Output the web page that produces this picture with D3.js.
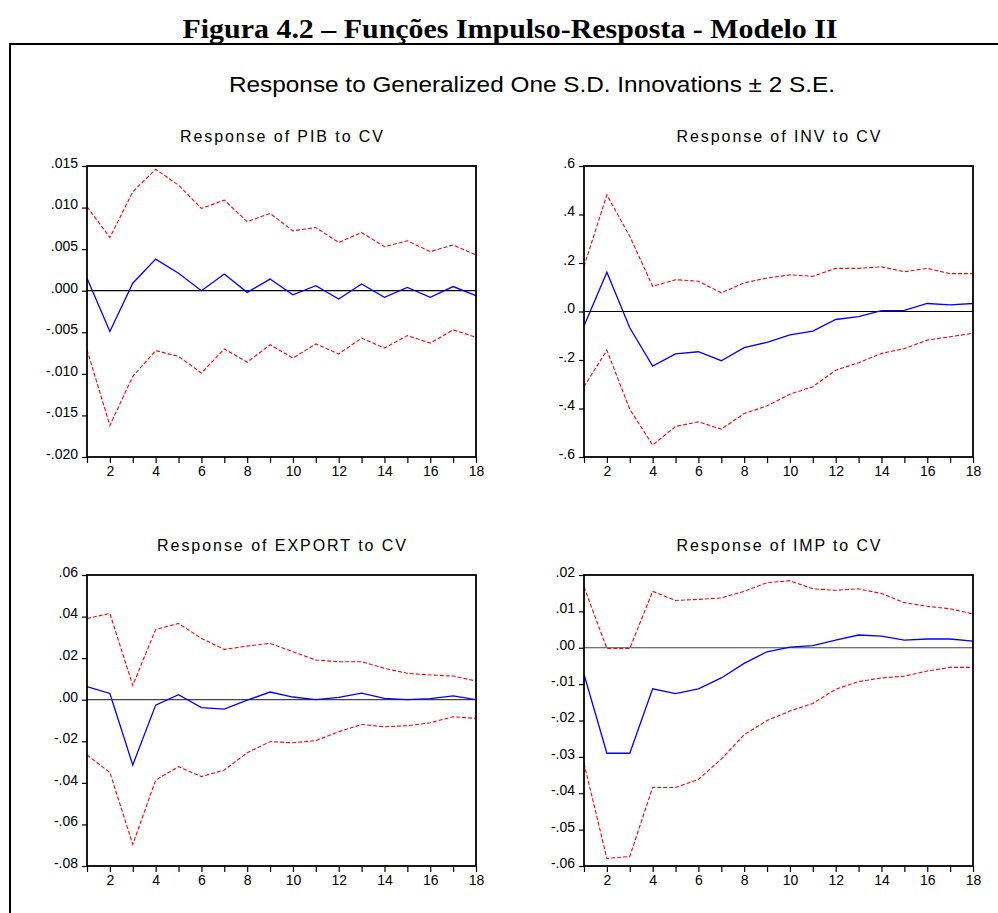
<!DOCTYPE html>
<html>
<head>
<meta charset="UTF-8">
<title>Figura 4.2</title>
<script src="https://cdn.jsdelivr.net/npm/d3@7"></script>
<style>
  body { margin: 0; background: #fff; }
  svg text { fill: #000; }
  .band { fill: none; stroke: #ff0000; stroke-width: 1.1px; stroke-dasharray: 4,2; }
  .resp { fill: none; stroke: #0000ff; stroke-width: 1.3px; }
</style>
</head>
<body>
<svg width="998" height="913"></svg>
<script>
// horizon (periods) and x tick labels
var periods = [1,2,3,4,5,6,7,8,9,10,11,12,13,14,15,16,17,18];
var xTickLabels = ["2","4","6","8","10","12","14","16","18"];

// PIB to CV
var pibResp  = [0.0015,-0.0049,0.0009,0.0038,0.0021,0.0000,0.0020,-0.0002,0.0014,-0.0005,0.0006,-0.0010,0.0008,-0.0008,0.0004,-0.0008,0.0005,-0.0006];
var pibUpper = [0.0101,0.0064,0.0119,0.0146,0.0127,0.0099,0.0109,0.0083,0.0093,0.0072,0.0076,0.0058,0.0070,0.0053,0.0060,0.0047,0.0055,0.0043];
var pibLower = [-0.0071,-0.0162,-0.0103,-0.0072,-0.0079,-0.0099,-0.0070,-0.0086,-0.0065,-0.0081,-0.0064,-0.0076,-0.0057,-0.0069,-0.0054,-0.0063,-0.0047,-0.0056];
var pibTicks = [0.015,0.010,0.005,0.000,-0.005,-0.010,-0.015,-0.020];
var pibTickLabels = [".015",".010",".005",".000","-.005","-.010","-.015","-.020"];

// INV to CV
var invResp  = [-0.060,0.162,-0.067,-0.225,-0.175,-0.166,-0.203,-0.149,-0.127,-0.096,-0.081,-0.033,-0.021,0.004,0.005,0.033,0.027,0.033];
var invUpper = [0.186,0.481,0.310,0.104,0.131,0.125,0.077,0.118,0.138,0.151,0.145,0.178,0.178,0.184,0.164,0.178,0.156,0.156];
var invLower = [-0.310,-0.160,-0.403,-0.551,-0.474,-0.455,-0.485,-0.421,-0.389,-0.341,-0.310,-0.242,-0.211,-0.173,-0.153,-0.118,-0.104,-0.090];
var invTicks = [0.6,0.4,0.2,0.0,-0.2,-0.4,-0.6];
var invTickLabels = [".6",".4",".2",".0","-.2","-.4","-.6"];

// EXPORT to CV
var expResp  = [0.0063,0.0030,-0.0314,-0.0026,0.0024,-0.0038,-0.0045,-0.0002,0.0037,0.0013,0.0000,0.0011,0.0032,0.0006,0.0000,0.0005,0.0018,0.0000];
var expUpper = [0.0391,0.0415,0.0069,0.0338,0.0367,0.0295,0.0242,0.0258,0.0271,0.0231,0.0191,0.0183,0.0183,0.0151,0.0127,0.0119,0.0114,0.0090];
var expLower = [-0.0266,-0.0350,-0.0696,-0.0387,-0.0322,-0.0370,-0.0338,-0.0255,-0.0202,-0.0207,-0.0197,-0.0154,-0.0119,-0.0130,-0.0125,-0.0111,-0.0082,-0.0090];
var expTicks = [0.06,0.04,0.02,0.00,-0.02,-0.04,-0.06,-0.08];
var expTickLabels = [".06",".04",".02",".00","-.02","-.04","-.06","-.08"];

// IMP to CV
var impResp  = [-0.0073,-0.0290,-0.0290,-0.0113,-0.0126,-0.0113,-0.0083,-0.0043,-0.0011,0.0002,0.0006,0.0021,0.0035,0.0032,0.0021,0.0024,0.0024,0.0018];
var impUpper = [0.0167,-0.0002,-0.0002,0.0155,0.0130,0.0133,0.0137,0.0155,0.0179,0.0184,0.0162,0.0158,0.0162,0.0149,0.0124,0.0114,0.0107,0.0093];
var impLower = [-0.0318,-0.0579,-0.0574,-0.0384,-0.0384,-0.0362,-0.0306,-0.0239,-0.0200,-0.0174,-0.0153,-0.0114,-0.0093,-0.0083,-0.0078,-0.0064,-0.0054,-0.0054];
var impTicks = [0.02,0.01,0.00,-0.01,-0.02,-0.03,-0.04,-0.05,-0.06];
var impTickLabels = [".02",".01",".00","-.01","-.02","-.03","-.04","-.05","-.06"];

var svg = d3.select('svg');

// figure caption and outer frame
svg.append('text')
   .attr('x', 510).attr('y', 38)
   .attr('text-anchor', 'middle')
   .style('font-family', '"Liberation Serif", "Times New Roman", serif')
   .style('font-weight', 'bold').style('font-size', '27px')
   .attr('textLength', 655).attr('lengthAdjust', 'spacingAndGlyphs')
   .text('Figura 4.2 – Funções Impulso-Resposta - Modelo II');

svg.append('path')
   .attr('d', 'M10,913 V44 H998')
   .attr('fill', 'none').attr('stroke', '#000').attr('stroke-width', 2);

svg.append('text')
   .attr('x', 532).attr('y', 92)
   .attr('text-anchor', 'middle')
   .style('font-family', '"Liberation Sans", Arial, sans-serif')
   .style('font-size', '22px')
   .attr('textLength', 606).attr('lengthAdjust', 'spacingAndGlyphs')
   .text('Response to Generalized One S.D. Innovations ± 2 S.E.');

var panels = [
  { title: 'Response of PIB to CV', tw: 203, x0: 87, y0: 166, resp: pibResp, up: pibUpper, lo: pibLower, ticks: pibTicks, labels: pibTickLabels, dom: [-0.020, 0.015], zero: '#000' },
  { title: 'Response of INV to CV', tw: 204, x0: 584, y0: 166, resp: invResp, up: invUpper, lo: invLower, ticks: invTicks, labels: invTickLabels, dom: [-0.6, 0.6], zero: '#000' },
  { title: 'Response of EXPORT to CV', tw: 249, x0: 87, y0: 575, resp: expResp, up: expUpper, lo: expLower, ticks: expTicks, labels: expTickLabels, dom: [-0.08, 0.06], zero: '#444' },
  { title: 'Response of IMP to CV', tw: 204, x0: 584, y0: 575, resp: impResp, up: impUpper, lo: impLower, ticks: impTicks, labels: impTickLabels, dom: [-0.06, 0.02], zero: '#444' }
];

var w = 389, h = 291;

panels.forEach(function(p) {
  var g = svg.append('g').attr('transform', 'translate(' + p.x0 + ',' + p.y0 + ')');
  var x = d3.scaleLinear().domain([1, 18]).range([0, w]);
  var y = d3.scaleLinear().domain(p.dom).range([h, 0]);

  g.append('text')
   .attr('x', w / 2).attr('y', -24)
   .attr('text-anchor', 'middle')
   .style('font-family', '"Liberation Sans", Arial, sans-serif')
   .style('font-size', '16px')
   .attr('textLength', p.tw).attr('lengthAdjust', 'spacing')
   .text(p.title);

  // axes
  var xa = g.append('g')
            .attr('transform', 'translate(0,' + h + ')')
            .call(d3.axisBottom(x).tickValues(periods).tickSize(6).tickPadding(3)
                    .tickFormat(function(d) { return d % 2 === 0 ? xTickLabels[d / 2 - 1] : ''; }));
  var ya = g.append('g')
            .call(d3.axisLeft(y).tickValues(p.ticks).tickSize(5).tickPadding(4)
                    .tickFormat(function(d, i) { return p.labels[i]; }));
  [xa, ya].forEach(function(a) {
    a.attr('font-family', '"Liberation Sans", Arial, sans-serif').attr('font-size', 14);
    a.select('.domain').remove();
    a.selectAll('.tick line').attr('stroke', '#000').attr('stroke-width', 1.2);
  });
  ya.selectAll('.tick text').attr('dy', '0.1em');

  // zero line
  g.append('line')
   .attr('x1', 0).attr('x2', w)
   .attr('y1', y(0)).attr('y2', y(0))
   .attr('stroke', p.zero).attr('stroke-width', 1.2);

  var line = d3.line()
               .x(function(d, i) { return x(periods[i]); })
               .y(function(d) { return y(d); });

  g.append('path').attr('class', 'band').attr('d', line(p.up));
  g.append('path').attr('class', 'band').attr('d', line(p.lo));
  g.append('path').attr('class', 'resp').attr('d', line(p.resp));

  g.append('rect')
   .attr('x', 0).attr('y', 0).attr('width', w).attr('height', h)
   .attr('fill', 'none').attr('stroke', '#000').attr('stroke-width', 1.8);
});
</script>
</body>
</html>
